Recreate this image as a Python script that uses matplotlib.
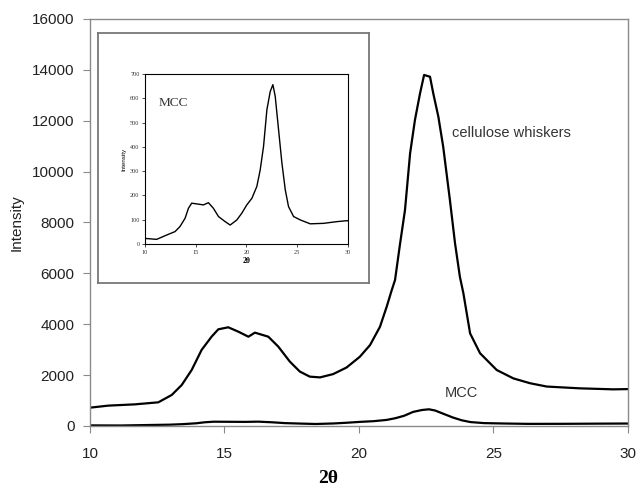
import matplotlib.pyplot as plt

# main pattern: cellulose whiskers (2theta, intensity)
cw_x = [10.0, 10.68, 11.67, 12.54, 13.04, 13.41, 13.78, 14.15, 14.52, 14.77, 15.14,
        15.51, 15.89, 16.13, 16.63, 17.0, 17.43, 17.8, 18.17, 18.55, 19.04, 19.54,
        20.03, 20.41, 20.78, 21.03, 21.22, 21.34, 21.52, 21.71, 21.9, 22.08, 22.27,
        22.42, 22.64, 22.76, 22.95, 23.13, 23.38, 23.57, 23.75, 23.88, 24.13, 24.5,
        25.12, 25.74, 26.36, 26.98, 28.2, 29.45, 30.0]
cw_y = [720, 800, 850, 930, 1220, 1610, 2200, 2990, 3510, 3800, 3880,
        3710, 3510, 3670, 3510, 3120, 2530, 2140, 1940, 1910, 2040, 2300,
        2720, 3180, 3900, 4690, 5350, 5740, 7115, 8490, 10720, 12030, 13080,
        13800, 13730, 13080, 12160, 10980, 8880, 7180, 5870, 5220, 3640, 2860,
        2200, 1870, 1680, 1550, 1480, 1440, 1450]

# MCC pattern
mcc_x = [10.0, 11.15, 12.14, 12.96, 13.45, 13.95, 14.28, 14.6, 15.1, 15.76, 16.25,
         16.74, 17.24, 17.9, 18.39, 19.05, 19.54, 20.03, 20.53, 21.02, 21.35, 21.68,
         22.01, 22.34, 22.6, 22.83, 23.16, 23.49, 23.82, 24.14, 24.64, 25.3, 26.28,
         27.6, 28.9, 29.9, 30.0]
mcc_y = [23, 19, 37, 51, 72, 106, 147, 168, 165, 161, 170,
         147, 113, 92, 78, 99, 127, 161, 188, 237, 305, 402,
         553, 628, 656, 608, 470, 333, 223, 154, 113, 99, 83,
         85, 92, 96, 95]

main_yticks = [0, 2000, 4000, 6000, 8000, 10000, 12000, 14000, 16000]
main_xticks = [10, 15, 20, 25, 30]
inset_yticks = [0, 100, 200, 300, 400, 500, 600, 700]

fig = plt.figure(figsize=(6.39, 4.87), dpi=100)
ax = fig.add_axes([0.1408, 0.1253, 0.842, 0.8357])
ax.plot(cw_x, cw_y, color='black', lw=1.6)
ax.plot(mcc_x, mcc_y, color='black', lw=1.6)
ax.set_xlim(10, 30)
ax.set_ylim(0, 16000)
ax.set_xticks(main_xticks)
ax.set_yticks(main_yticks)
for s in ax.spines.values():
    s.set_color('#8a8a8a')
    s.set_linewidth(1.0)
ax.tick_params(direction='out', length=5, color='#8a8a8a', labelsize=11,
               labelcolor='#222222')
ax.tick_params(axis='x', pad=10)
ax.tick_params(axis='y', pad=6)
for lab in ax.get_xticklabels() + ax.get_yticklabels():
    lab.set_family('Liberation Sans')
ax.set_ylabel('Intensity', family='Liberation Sans', fontsize=11, color='#222222', labelpad=6)
ax.set_xlabel('2θ', family='Liberation Serif', fontsize=14, fontweight='bold')
ax.xaxis.set_label_coords(0.442, -0.108)
ax.text(23.46, 11520, 'cellulose whiskers', family='Liberation Sans', fontsize=10.5,
        color='#333333', va='center')
ax.text(23.8, 1300, 'MCC', family='Liberation Sans', fontsize=10.5, color='#333333',
        va='center', ha='center')

# inset frame
frame = fig.add_axes([0.1534, 0.4189, 0.4241, 0.5133])
frame.set_xticks([])
frame.set_yticks([])
for s in frame.spines.values():
    s.set_color('#777777')
    s.set_linewidth(1.3)

ins = fig.add_axes([0.2269, 0.4990, 0.3177, 0.3491])
ins.plot(mcc_x, mcc_y, color='black', lw=1.0)
ins.set_xlim(10, 30)
ins.set_ylim(0, 700)
ins.set_xticks(main_xticks)
ins.set_yticks(inset_yticks)
for s in ins.spines.values():
    s.set_color('black')
    s.set_linewidth(0.8)
ins.tick_params(direction='out', length=2, width=0.5, labelsize=4.5, pad=2,
                labelcolor='#333333')
for lab in ins.get_xticklabels() + ins.get_yticklabels():
    lab.set_family('Liberation Serif')
ins.set_ylabel('Intensity', fontsize=4.5, family='Liberation Sans', labelpad=3)
ins.set_xlabel('2θ', fontsize=5.5, family='Liberation Serif', fontweight='bold', labelpad=2)
ins.text(11.3, 580, 'MCC', family='Liberation Serif', fontsize=9.5, color='#333333',
         va='center')

fig.savefig('out.png', dpi=100)
